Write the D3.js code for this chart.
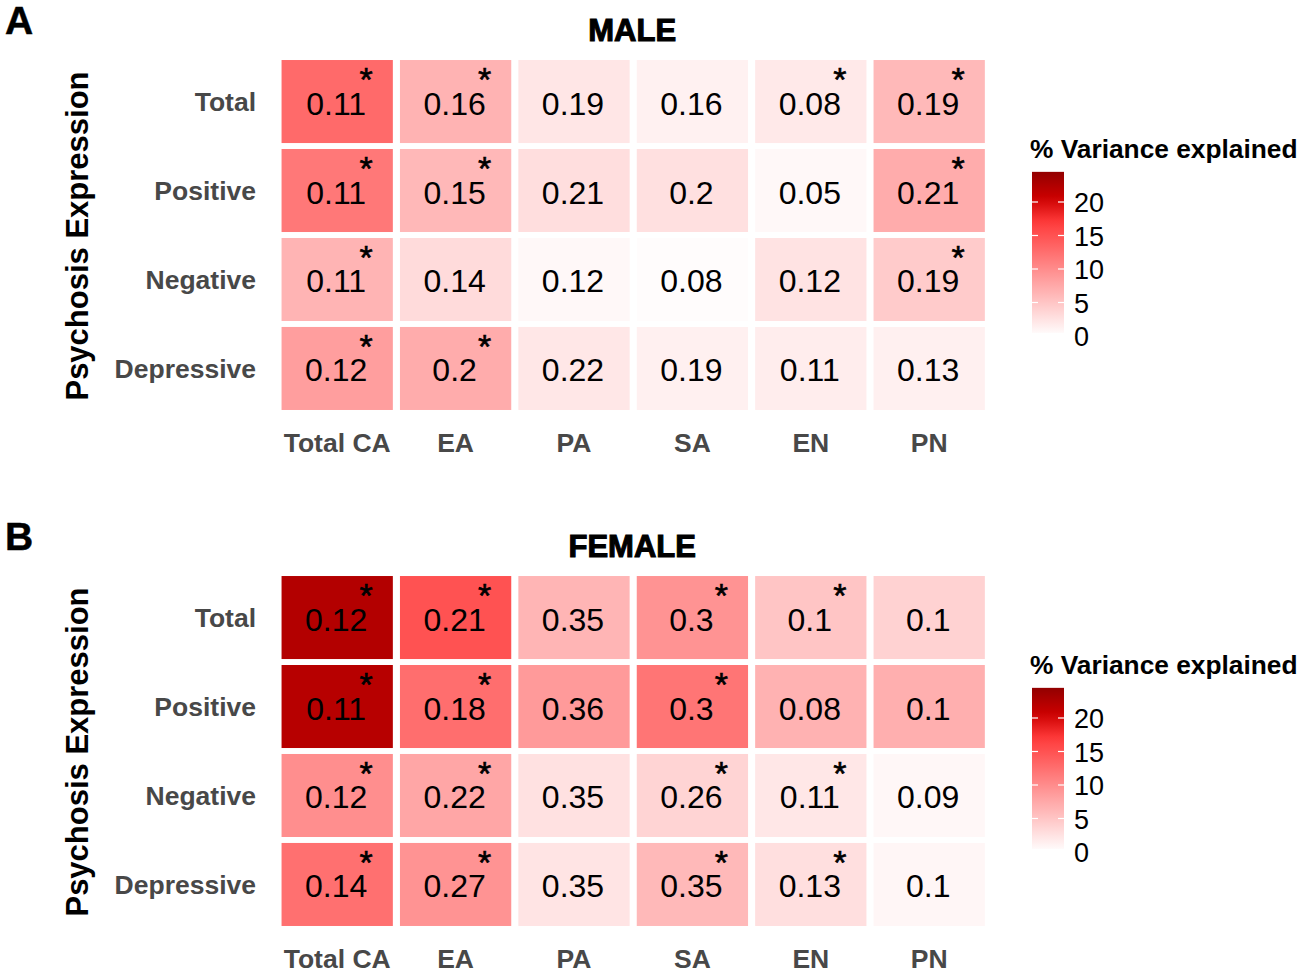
<!DOCTYPE html>
<html>
<head>
<meta charset="utf-8">
<script src="https://cdn.jsdelivr.net/npm/d3@7"></script>
<style>
  body { margin: 0; background: #fff; }
  text { font-family: "Liberation Sans", Arial, sans-serif; }
</style>
</head>
<body>
<div id="chart"></div>
<script>
// categories
const cols = ["Total CA", "EA", "PA", "SA", "EN", "PN"];
const rows = ["Total", "Positive", "Negative", "Depressive"];

// cell labels (shown numbers), one row per symptom dimension
const maleLabels = [
  [0.11, 0.16, 0.19, 0.16, 0.08, 0.19],
  [0.11, 0.15, 0.21, 0.2, 0.05, 0.21],
  [0.11, 0.14, 0.12, 0.08, 0.12, 0.19],
  [0.12, 0.2, 0.22, 0.19, 0.11, 0.13]
];
const femaleLabels = [
  [0.12, 0.21, 0.35, 0.3, 0.1, 0.1],
  [0.11, 0.18, 0.36, 0.3, 0.08, 0.1],
  [0.12, 0.22, 0.35, 0.26, 0.11, 0.09],
  [0.14, 0.27, 0.35, 0.35, 0.13, 0.1]
];

// % variance explained (fill), estimated from the colours
const maleVar = [
  [12.9, 6.6, 2.2, 1.2, 1.9, 6.1],
  [11.7, 6.2, 2.9, 2.7, 0.6, 7.2],
  [6.5, 3.1, 0.6, 0.3, 2.4, 4.5],
  [8.4, 7.2, 2.1, 1.3, 1.6, 1.3]
];
const femaleVar = [
  [22.3, 15.0, 6.4, 9.4, 5.0, 3.9],
  [22.0, 12.6, 8.8, 12.0, 6.7, 6.9],
  [9.8, 7.7, 2.6, 3.7, 2.1, 0.7],
  [12.4, 9.4, 2.3, 6.1, 2.8, 0.8]
];

// significance stars
const maleSig = [
  [1, 1, 0, 0, 1, 1],
  [1, 1, 0, 0, 0, 1],
  [1, 0, 0, 0, 0, 1],
  [1, 1, 0, 0, 0, 0]
];
const femaleSig = [
  [1, 1, 0, 1, 1, 0],
  [1, 1, 0, 1, 0, 0],
  [1, 1, 0, 1, 1, 0],
  [1, 1, 0, 1, 1, 0]
];

const legendTicks = [0, 5, 10, 15, 20];
const varRange = [0.45, 24.5];

const W = 1304, H = 972;
const svg = d3.select("#chart").append("svg")
  .attr("width", W).attr("height", H);

const color = d3.scaleLinear()
  .domain([0, 17, 20.5, 25])
  .range(["#ffffff", "#ff3b3b", "#cd0000", "#8b0000"])
  .clamp(true);

const x = d3.scaleBand().domain(cols).range([278, 988.4])
  .paddingInner(0.06).paddingOuter(0.03);
const y = d3.scaleBand().domain(rows).range([57, 413])
  .paddingInner(0.067).paddingOuter(0.034);

function drawPanel(dy, letter, title, labels, vars, sig) {
  const g = svg.append("g").attr("transform", `translate(0,${dy})`);

  g.append("text").attr("x", 5).attr("y", 34)
    .attr("font-size", 39).attr("font-weight", "bold")
    .attr("stroke", "#000").attr("stroke-width", 0.5)
    .text(letter);

  g.append("text").attr("x", (x.range()[0] + x.range()[1]) / 2 - 1).attr("y", 41)
    .attr("text-anchor", "middle")
    .attr("font-size", 31).attr("font-weight", "bold")
    .attr("stroke", "#000").attr("stroke-width", 1.1)
    .text(title);

  const cells = [];
  rows.forEach((r, i) => cols.forEach((c, j) => {
    cells.push({ r, c, v: vars[i][j], lab: labels[i][j], s: sig[i][j] });
  }));

  g.selectAll("rect.cell").data(cells).enter().append("rect")
    .attr("class", "cell")
    .attr("x", d => x(d.c)).attr("y", d => y(d.r))
    .attr("width", x.bandwidth()).attr("height", y.bandwidth())
    .attr("fill", d => color(d.v));

  g.selectAll("text.val").data(cells).enter().append("text")
    .attr("class", "val")
    .attr("x", d => x(d.c) + x.bandwidth() / 2 - 1)
    .attr("y", d => y(d.r) + y.bandwidth() / 2 + 13)
    .attr("text-anchor", "middle")
    .attr("font-size", 32).attr("fill", "#000")
    .text(d => String(d.lab));

  g.selectAll("text.star").data(cells.filter(d => d.s)).enter().append("text")
    .attr("class", "star")
    .attr("x", d => x(d.c) + x.bandwidth() / 2 + 29)
    .attr("y", d => y(d.r) + 31)
    .attr("text-anchor", "middle")
    .attr("font-size", 34).attr("fill", "#000")
    .attr("stroke", "#000").attr("stroke-width", 0.6)
    .text("*");

  // axes
  const yAxis = g.append("g").attr("transform", `translate(${x.range()[0]},0)`)
    .call(d3.axisLeft(y).tickSize(0).tickPadding(22));
  const xAxis = g.append("g").attr("transform", `translate(0,${y.range()[1]})`)
    .call(d3.axisBottom(x).tickSize(0).tickPadding(20));
  [xAxis, yAxis].forEach(a => {
    a.select(".domain").remove();
    a.selectAll("text")
      .attr("font-family", "Liberation Sans, Arial, sans-serif")
      .attr("font-size", 26.5).attr("font-weight", "bold").attr("fill", "#484848");
  });
  yAxis.selectAll("text").attr("dy", "0.35em");
  xAxis.selectAll("text").attr("dy", "0.71em");

  g.append("text")
    .attr("transform", `translate(88,${(y.range()[0] + y.range()[1]) / 2 + 1}) rotate(-90)`)
    .attr("text-anchor", "middle")
    .attr("font-size", 31).attr("font-weight", "bold")
    .text("Psychosis Expression");

  // legend
  const ly = d3.scaleLinear().domain([0, 25]).range([336, 168.5]);
  const lx = 1032, lw = 32;
  g.append("text").attr("x", 1030).attr("y", 158)
    .attr("font-size", 26.3).attr("font-weight", "bold")
    .text("% Variance explained");

  const gid = "grad" + letter;
  const grad = svg.append("defs").append("linearGradient").attr("id", gid)
    .attr("x1", 0).attr("x2", 0).attr("y1", 1).attr("y2", 0);
  d3.range(0, 21).forEach(k => {
    const v = varRange[0] + (varRange[1] - varRange[0]) * k / 20;
    grad.append("stop").attr("offset", k / 20).attr("stop-color", color(v));
  });
  g.append("rect").attr("x", lx).attr("y", ly(varRange[1]))
    .attr("width", lw).attr("height", ly(varRange[0]) - ly(varRange[1]))
    .attr("fill", `url(#${gid})`);

  g.selectAll("line.lt").data(legendTicks.filter(t => t >= varRange[0])).enter()
    .append("g").each(function (t) {
      const s = d3.select(this);
      s.append("line").attr("x1", lx).attr("x2", lx + 6)
        .attr("y1", ly(t)).attr("y2", ly(t)).attr("stroke", "#fff").attr("stroke-width", 1.2);
      s.append("line").attr("x1", lx + lw - 6).attr("x2", lx + lw)
        .attr("y1", ly(t)).attr("y2", ly(t)).attr("stroke", "#fff").attr("stroke-width", 1.2);
    });

  g.selectAll("text.ll").data(legendTicks).enter().append("text")
    .attr("class", "ll")
    .attr("x", 1074).attr("y", t => ly(t) + 10)
    .attr("font-size", 27).attr("fill", "#000")
    .text(t => t);
}

drawPanel(0, "A", "MALE", maleLabels, maleVar, maleSig);
drawPanel(516, "B", "FEMALE", femaleLabels, femaleVar, femaleSig);
</script>
</body>
</html>
